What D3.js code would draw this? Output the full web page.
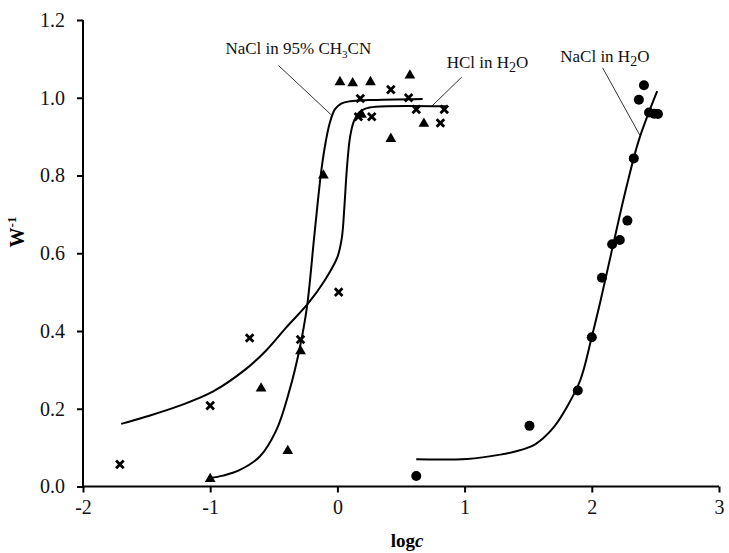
<!DOCTYPE html>
<html>
<head>
<meta charset="utf-8">
<script src="https://cdn.jsdelivr.net/npm/d3@7"></script>
<style>
  body { margin: 0; background: #fff; }
  svg, svg text { font-family: "Liberation Serif", "DejaVu Serif", "Times New Roman", serif; }
</style>
</head>
<body>
<script>
const w = 729;
const h = 553;
const serif = "'Liberation Serif', 'DejaVu Serif', serif";

// NaCl in 95% CH3CN (triangles)
const triX = [-1.0, -0.6, -0.39, -0.29, -0.11, 0.02, 0.12, 0.26, 0.57, 0.42, 0.68, 0.19];
const triY = [0.022, 0.255, 0.094, 0.351, 0.803, 1.043, 1.040, 1.043, 1.06, 0.897, 0.936, 0.959];

// HCl in H2O (crosses)
const crossX = [-1.71, -1.0, -0.69, -0.29, 0.01, 0.18, 0.42, 0.56, 0.27, 0.165, 0.62, 0.84, 0.81];
const crossY = [0.057, 0.208, 0.382, 0.378, 0.50, 0.998, 1.021, 1.0, 0.951, 0.951, 0.970, 0.970, 0.935];

// NaCl in H2O (circles)
const circX = [0.62, 1.51, 1.89, 2.0, 2.08, 2.16, 2.22, 2.28, 2.33, 2.37, 2.41, 2.45, 2.49, 2.52];
const circY = [0.027, 0.156, 0.247, 0.384, 0.537, 0.623, 0.634, 0.684, 0.844, 0.995, 1.032, 0.962, 0.959, 0.958];

// fitted curves
const fitTriX = [-1.0, -0.9, -0.77, -0.61, -0.48, -0.376, -0.30, -0.24, -0.18, -0.126, -0.09, -0.06, -0.02, 0.03, 0.1, 0.25, 0.67];
const fitTriY = [0.022, 0.028, 0.042, 0.077, 0.145, 0.248, 0.35, 0.46, 0.65, 0.814, 0.89, 0.935, 0.97, 0.985, 0.991, 0.994, 0.997];

const fitCrossX = [-1.70, -1.5, -1.24, -0.98, -0.72, -0.56, -0.4, -0.23, -0.1, 0.0, 0.035, 0.055, 0.075, 0.1, 0.13, 0.17, 0.22, 0.3, 0.86];
const fitCrossY = [0.161, 0.180, 0.208, 0.244, 0.302, 0.350, 0.41, 0.471, 0.53, 0.59, 0.64, 0.72, 0.82, 0.9, 0.94, 0.962, 0.972, 0.977, 0.978];

const fitCircX = [0.62, 1.02, 1.28, 1.42, 1.54, 1.62, 1.70, 1.80, 1.91, 2.0, 2.07, 2.17, 2.27, 2.37, 2.514];
const fitCircY = [0.07, 0.071, 0.082, 0.092, 0.106, 0.125, 0.152, 0.202, 0.274, 0.385, 0.48, 0.625, 0.767, 0.891, 1.017];

const xTicks = [-2, -1, 0, 1, 2, 3];
const yTicks = [0, 0.2, 0.4, 0.6, 0.8, 1.0, 1.2];

// labels: [main text, subscript, tail], text anchor and leader line (data units)
const labelText = [["NaCl in 95% CH", "3", "CN"], ["HCl in H", "2", "O"], ["NaCl in H", "2", "O"]];
const labelAt = [[-0.88, 1.112], [0.859, 1.076], [1.752, 1.092]];
const leaderFrom = [[-0.463, 1.083], [0.977, 1.053], [2.085, 1.077]];
const leaderTo = [[-0.045, 0.955], [0.741, 0.978], [2.377, 0.904]];

const svg = d3.select("body").append("svg")
    .attr("width", w)
    .attr("height", h);

const x = d3.scaleLinear().domain([-2, 3]).range([83, 719]);
const y = d3.scaleLinear().domain([0, 1.2]).range([486.5, 20]);

const xAxis = svg.append("g")
    .attr("transform", "translate(0," + y(0) + ")")
    .call(d3.axisBottom(x).tickValues(xTicks).tickSize(6).tickPadding(7).tickFormat(d => String(d)));

const yAxis = svg.append("g")
    .attr("transform", "translate(" + x(-2) + ",0)")
    .call(d3.axisLeft(y).tickValues(yTicks).tickSize(6).tickPadding(12).tickFormat(d3.format(".1f")));

[xAxis, yAxis].forEach(g => {
  g.attr("font-family", serif).attr("font-size", 20);
  g.select(".domain").attr("stroke", "#000").attr("stroke-width", 2);
  g.selectAll(".tick line").attr("stroke", "#000").attr("stroke-width", 2);
  g.selectAll("text").attr("fill", "#111");
});
xAxis.select(".domain").attr("d", "M" + x(-2) + ",0H" + x(3));
yAxis.select(".domain").attr("d", "M0," + y(0) + "V" + y(1.2));

// axis titles
const xt = svg.append("text")
    .attr("x", 407).attr("y", 547)
    .attr("text-anchor", "middle")
    .attr("font-family", serif)
    .attr("font-size", 19).attr("font-weight", "bold");
xt.append("tspan").text("log");
xt.append("tspan").attr("font-style", "italic").text("c");

const yt = svg.append("text")
    .attr("transform", "translate(24,232) rotate(-90)")
    .attr("text-anchor", "middle")
    .attr("font-family", serif)
    .attr("font-size", 20).attr("font-weight", "bold");
yt.append("tspan").text("W");
yt.append("tspan").attr("font-size", 13).attr("dy", -8).text("-1");

// fitted curves
const line = d3.line().x(d => x(d[0])).y(d => y(d[1])).curve(d3.curveCatmullRom.alpha(0.5));
[[fitTriX, fitTriY], [fitCrossX, fitCrossY], [fitCircX, fitCircY]].forEach(([xs, ys]) => {
  svg.append("path")
    .datum(xs.map((v, i) => [v, ys[i]]))
    .attr("fill", "none")
    .attr("stroke", "#000")
    .attr("stroke-width", 2)
    .attr("d", line);
});

// markers
svg.selectAll(".tri")
  .data(triX.map((v, i) => [v, triY[i]]))
  .enter().append("path")
    .attr("class", "tri")
    .attr("d", d3.symbol(d3.symbolTriangle, 50))
    .attr("transform", d => "translate(" + x(d[0]) + "," + (y(d[1]) + 1) + ")")
    .attr("fill", "#000");

svg.selectAll(".cross")
  .data(crossX.map((v, i) => [v, crossY[i]]))
  .enter().append("path")
    .attr("class", "cross")
    .attr("d", "M-3.8,-3.8L3.8,3.8M-3.8,3.8L3.8,-3.8")
    .attr("transform", d => "translate(" + x(d[0]) + "," + y(d[1]) + ")")
    .attr("stroke", "#000")
    .attr("stroke-width", 2.8);

svg.selectAll(".dot")
  .data(circX.map((v, i) => [v, circY[i]]))
  .enter().append("circle")
    .attr("class", "dot")
    .attr("cx", d => x(d[0]))
    .attr("cy", d => y(d[1]))
    .attr("r", 5)
    .attr("fill", "#000");

// labels with leader lines
labelText.forEach((parts, i) => {
  svg.append("line")
    .attr("x1", x(leaderFrom[i][0])).attr("y1", y(leaderFrom[i][1]))
    .attr("x2", x(leaderTo[i][0])).attr("y2", y(leaderTo[i][1]))
    .attr("stroke", "#000").attr("stroke-width", 0.8);
  const t = svg.append("text")
    .attr("x", x(labelAt[i][0])).attr("y", y(labelAt[i][1]))
    .attr("font-family", serif)
    .attr("font-size", 17).attr("fill", "#111");
  t.append("tspan").text(parts[0]);
  t.append("tspan").attr("font-size", i === 0 ? 11 : 14).attr("dy", 4).text(parts[1]);
  t.append("tspan").attr("dy", -4).text(parts[2]);
});
</script>
</body>
</html>
